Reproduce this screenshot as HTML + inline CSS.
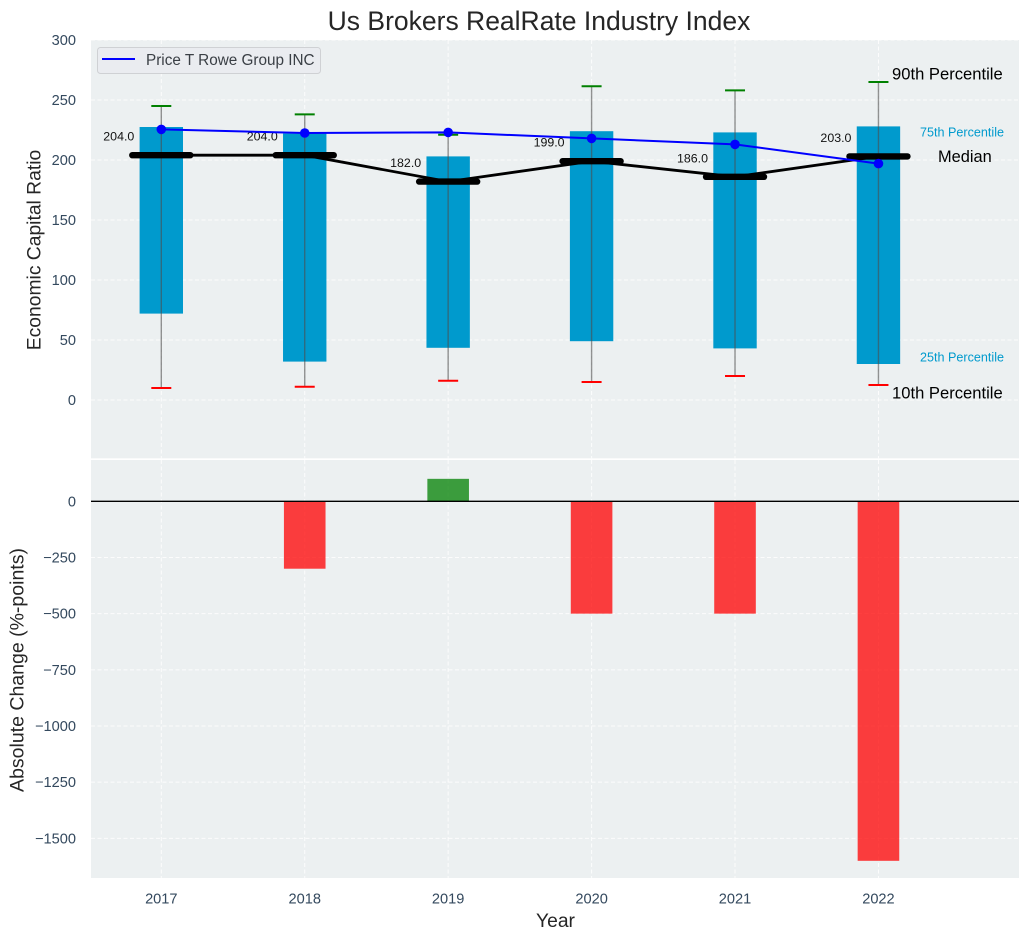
<!DOCTYPE html>
<html>
<head>
<meta charset="utf-8">
<title>Us Brokers RealRate Industry Index</title>
<style>
html,body{margin:0;padding:0;background:#fff;}
svg{display:block;font-family:"Liberation Sans",Arial,sans-serif;}
</style>
</head>
<body>
<svg id="chart" width="1029" height="940" viewBox="0 0 1029 940" xmlns="http://www.w3.org/2000/svg"></svg>
<script>
const years = [2017, 2018, 2019, 2020, 2021, 2022];
const p90 = [245, 238, 221, 261.5, 258, 265];
const p75 = [227.5, 222, 203, 224, 223, 228];
const median = [204, 204, 182, 199, 186, 203];
const p25 = [72, 32, 43.5, 49, 43, 30];
const p10 = [10, 11, 16, 15, 20, 12.5];
const company = [225.5, 222.5, 223, 218, 213, 197];
const changes = [0, -300, 100, -500, -500, -1600];
const topTicks = [0, 50, 100, 150, 200, 250, 300];
const bottomTicks = [0, -250, -500, -750, -1000, -1250, -1500];

const svg = document.getElementById('chart');
const NS = 'http://www.w3.org/2000/svg';
const L = 91, R = 1019, T1 = 40, B1 = 458.3, T2 = 460, B2 = 878;

function xS(i) { return 161.3 + i * 143.43; }
function yTop(v) { return 400 - v * 1.2; }
function yBot(v) { return 501.3 - v * 0.2247; }

function make(tag, attrs, text) {
  const el = document.createElementNS(NS, tag);
  for (const k in attrs) el.setAttribute(k, attrs[k]);
  if (text !== undefined) el.textContent = text;
  svg.appendChild(el);
  return el;
}
function fmt(v) { return String(v).replace('-', '\u2212'); }

let el;
el = make('rect', {x: L, y: T1, width: R - L, height: B1 - T1, fill: '#ecf0f1'});


el = make('rect', {x: L, y: T2, width: R - L, height: B2 - T2, fill: '#ecf0f1'});



const gridStyle = {stroke: '#ffffff', 'stroke-width': 1, 'stroke-dasharray': '4 2.5', opacity: 0.85};
const tickStyle = {'text-anchor': 'end', 'font-size': 14.6, fill: '#34495e'};
topTicks.forEach(t => {
  el = make('line', Object.assign({x1: L, x2: R, y1: yTop(t), y2: yTop(t)}, gridStyle));
  
  
  el = make('text', Object.assign({x: 76, y: yTop(t) + 5}, tickStyle), fmt(t));
  
  
});
bottomTicks.forEach(t => {
  el = make('line', Object.assign({x1: L, x2: R, y1: yBot(t), y2: yBot(t)}, gridStyle));
  
  
  el = make('text', Object.assign({x: 76, y: yBot(t) + 5}, tickStyle), fmt(t));
  
  
});
years.forEach((y, i) => {
  el = make('line', Object.assign({x1: xS(i), x2: xS(i), y1: T1, y2: B1}, gridStyle));
  
  
  el = make('line', Object.assign({x1: xS(i), x2: xS(i), y1: T2, y2: B2}, gridStyle));
  
  
  el = make('text', {x: xS(i), y: 903.5, 'text-anchor': 'middle', 'font-size': 14.6, fill: '#34495e'}, y);
  
  
});

/* boxes */
years.forEach((y, i) => {
  el = make('rect', {x: xS(i) - 21.7, width: 43.4, y: yTop(p75[i]), height: yTop(p25[i]) - yTop(p75[i]), fill: '#009acd'});
  
  
});
/* whiskers */
years.forEach((y, i) => {
  el = make('line', {x1: xS(i), x2: xS(i), y1: yTop(p90[i]), y2: yTop(p10[i]), stroke: '#4d4d4d', 'stroke-opacity': 0.6, 'stroke-width': 1.4});
  
  
  el = make('line', {x1: xS(i) - 10, x2: xS(i) + 10, y1: yTop(p90[i]), y2: yTop(p90[i]), stroke: '#008000', 'stroke-width': 2});
  
  
  el = make('line', {x1: xS(i) - 10, x2: xS(i) + 10, y1: yTop(p10[i]), y2: yTop(p10[i]), stroke: '#ff0000', 'stroke-width': 2});
  
  
});
/* median line */
el = make('polyline', {points: median.map((v, i) => xS(i) + ',' + yTop(v)).join(' '), fill: 'none', stroke: '#000', 'stroke-width': 2.8});


years.forEach((y, i) => {
  el = make('line', {x1: xS(i) - 29, x2: xS(i) + 29, y1: yTop(median[i]), y2: yTop(median[i]), stroke: '#000', 'stroke-width': 6.4, 'stroke-linecap': 'round'});
  
  
  el = make('text', {x: xS(i) - 27, y: yTop(median[i]) - 14.5, 'text-anchor': 'end', 'font-size': 12.4, fill: '#111'}, median[i].toFixed(1));
  
  
});
/* company line */
el = make('polyline', {points: company.map((v, i) => xS(i) + ',' + yTop(v)).join(' '), fill: 'none', stroke: '#0000ff', 'stroke-width': 2});


years.forEach((y, i) => {
  el = make('circle', {cx: xS(i), cy: yTop(company[i]), r: 4.8, fill: '#0000ff'});
  
  
});
/* change bars */
years.forEach((y, i) => {
  const v = changes[i];
  if (v === 0) return;
  const top = Math.min(yBot(v), yBot(0));
  const h = Math.abs(yBot(v) - yBot(0));
  el = make('rect', {x: xS(i) - 20.8, width: 41.6, y: top, height: h, fill: v < 0 ? '#ff0000' : '#008000', 'fill-opacity': 0.75});
  
  
});
el = make('line', {x1: L, x2: R, y1: yBot(0), y2: yBot(0), stroke: '#000', 'stroke-width': 1.3});



/* annotations tied to the final year */
const last = years.length - 1;
el = make('text', {x: 892, y: yTop(p90[last]) - 2.5, 'font-size': 16.6, fill: '#000'}, '90th Percentile');


el = make('text', {x: 920, y: yTop(p75[last]) + 10, 'font-size': 12.6, fill: '#009acd'}, '75th Percentile');


el = make('text', {x: 938, y: yTop(median[last]) + 5.5, 'font-size': 16.4, fill: '#000'}, 'Median');


el = make('text', {x: 920, y: yTop(p25[last]) - 2.5, 'font-size': 12.6, fill: '#009acd'}, '25th Percentile');


el = make('text', {x: 892, y: yTop(p10[last]) + 13.5, 'font-size': 16.6, fill: '#000'}, '10th Percentile');



/* legend */
el = make('rect', {x: 97.5, y: 47.5, width: 223, height: 26, rx: 3, fill: '#eaecf0', stroke: '#cfd1d4', 'stroke-width': 1});


el = make('line', {x1: 102, x2: 135, y1: 59, y2: 59, stroke: '#0000ff', 'stroke-width': 2});


el = make('text', {x: 146, y: 65, 'font-size': 15.3, fill: '#3a3f45'}, 'Price T Rowe Group INC');



/* titles */
el = make('text', {x: 539, y: 30, 'text-anchor': 'middle', 'font-size': 26.5, fill: '#262626'}, 'Us Brokers RealRate Industry Index');


el = make('text', {x: 555.5, y: 927, 'text-anchor': 'middle', 'font-size': 19.3, fill: '#262626'}, 'Year');


el = make('text', {transform: 'translate(40.5 250) rotate(-90)', 'text-anchor': 'middle', 'font-size': 19.3, fill: '#262626'}, 'Economic Capital Ratio');


el = make('text', {transform: 'translate(23.5 670) rotate(-90)', 'text-anchor': 'middle', 'font-size': 19.5, fill: '#262626'}, 'Absolute Change (%-points)');


</script>
</body>
</html>
